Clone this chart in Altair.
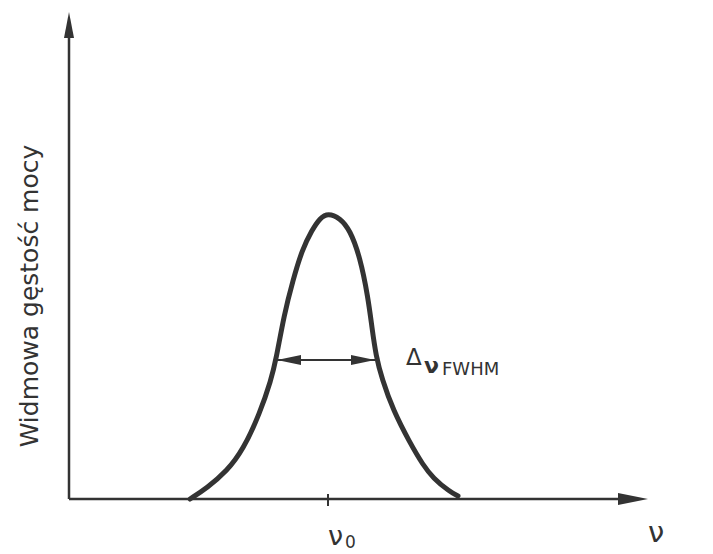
import altair as alt
import pandas as pd

# Spectral line profile (x = frequency units, y = power density units)
curve_x = [121, 138, 158, 174, 191, 202, 207, 215, 224, 233, 243, 251, 259,
           271, 281, 291, 299, 303, 307, 313, 324, 341, 354, 364, 381, 389]
curve_y = [0, 11, 28, 49, 86, 119, 139, 184, 219, 249, 269, 281, 286,
           281, 269, 242, 202, 171, 143, 120, 89, 56, 34, 21, 7, 3]

nu0 = 259
fwhm_left, fwhm_right, half_max = 207, 307, 139
x_axis_end, y_axis_end = 551, 461
x_arrow_center, y_arrow_center = 564, 474
fwhm_arrow_left, fwhm_arrow_right = 220, 294

ylabel = "Widmowa gęstość mocy"

INK = "#333333"
FONT = "DejaVu Sans"

xs = alt.Scale(domain=[0, 600])
ys = alt.Scale(domain=[0, 490])


def X(f="x"):
    return alt.X(f + ":Q", scale=xs, axis=None)


def Y(f="y"):
    return alt.Y(f + ":Q", scale=ys, axis=None)


curve = alt.Chart(pd.DataFrame({"x": curve_x, "y": curve_y})).mark_line(
    color=INK, strokeWidth=5, interpolate="basis", strokeCap="round"
).encode(x=X(), y=Y())

axes_df = pd.DataFrame({
    "x": [0, 0, fwhm_left, nu0],
    "x2": [x_axis_end, 0, fwhm_right, nu0],
    "y": [0, 0, half_max, -7],
    "y2": [0, y_axis_end, half_max, 5],
    "w": [2.5, 2.5, 2, 2],
})
rules = alt.Chart(axes_df).mark_rule(color=INK).encode(
    x=X(), x2="x2:Q", y=Y(), y2="y2:Q",
    strokeWidth=alt.StrokeWidth("w:Q", scale=None, legend=None),
)


def arrow(x, y, shape, size):
    return alt.Chart(pd.DataFrame({"x": [x], "y": [y]})).mark_point(
        shape=shape, size=size, filled=True, color=INK, opacity=1, strokeWidth=0
    ).encode(x=X(), y=Y())


arrows = [
    arrow(0, y_arrow_center, "M0,-1L0.385,1L-0.385,1Z", 676),
    arrow(x_arrow_center, 0, "M1,0L-1,-0.4L-1,0.4Z", 900),
    arrow(fwhm_arrow_left, half_max, "M-1,0L1,-0.42L1,0.42Z", 576),
    arrow(fwhm_arrow_right, half_max, "M1,0L-1,-0.42L-1,0.42Z", 576),
]


def label(x, y, text, size, weight="normal", angle=0, align="left", baseline="alphabetic"):
    return alt.Chart(pd.DataFrame({"x": [x], "y": [y], "t": [text]})).mark_text(
        font=FONT, fontSize=size, fontWeight=weight, color=INK, align=align,
        baseline=baseline, angle=angle
    ).encode(x=X(), y=Y(), text="t:N")


labels = [
    label(337, 134, "Δ", 23),
    label(355, 126, "ν", 22, weight="bold"),
    label(373, 124, "FWHM", 18),
    label(259, -46, "ν", 27),
    label(276, -49, "0", 17),
    label(579, -43, "ν", 29),
    label(-39, 203, ylabel, 25, angle=270, align="center", baseline="middle"),
]

chart = alt.layer(curve, rules, *arrows, *labels).properties(
    width=600, height=490,
    autosize=alt.AutoSizeParams(type="none"),
    padding={"left": 61, "top": 1, "right": 36, "bottom": 55},
    background="white",
).configure_view(stroke=None)

chart.save("out.html", embed_options={"renderer": "svg", "actions": False})
